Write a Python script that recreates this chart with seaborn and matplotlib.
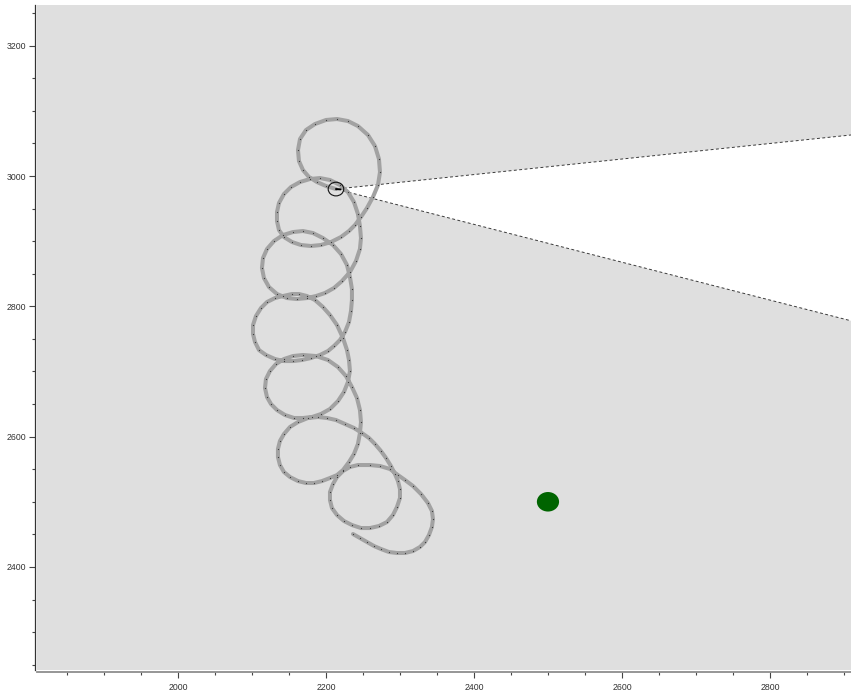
import matplotlib
matplotlib.use("Agg")
import numpy as np
import pandas as pd
import matplotlib.pyplot as plt
from matplotlib.patches import Circle, Polygon
import seaborn as sns

# Robot trajectory in world coordinates (start -> current pose)
path_x = [
    2236.5, 2245.9, 2255.4, 2264.9, 2274.3, 2285.1, 2295.9, 2306.8, 2317.6, 2327.0,
    2333.8, 2339.2, 2343.2, 2344.6, 2343.2, 2337.8, 2328.4, 2317.6, 2306.8, 2297.3,
    2286.5, 2273.0, 2259.5,
    2243.2, 2232.4, 2223.0, 2214.9, 2209.5, 2205.4, 2205.4, 2208.1, 2214.9, 2224.3,
    2235.1, 2247.3, 2259.5, 2271.6, 2282.4, 2290.5, 2295.9, 2300.0, 2300.0, 2297.3,
    2293.2,
    2287.8, 2281.1, 2274.3, 2266.2, 2258.1, 2248.6, 2237.8, 2225.7, 2213.5, 2201.4,
    2189.2,
    2175.7, 2162.2, 2151.4, 2143.2, 2137.8, 2135.1, 2135.1, 2137.8, 2143.2, 2151.4,
    2162.2, 2173.0, 2183.8, 2194.6, 2205.4, 2214.9, 2223.0,
    2231.1, 2237.8, 2243.2, 2245.9, 2247.3, 2245.9, 2241.9, 2235.1, 2227.0, 2216.2,
    2202.7, 2186.5, 2168.9,
    2155.4, 2143.2, 2132.4, 2124.3, 2118.9, 2117.6, 2120.3, 2125.7, 2133.8, 2144.6,
    2156.8, 2168.9, 2181.1,
    2193.2, 2205.4, 2216.2, 2224.3, 2229.7, 2232.4, 2231.1, 2228.4, 2223.0, 2214.9,
    2205.4, 2195.9, 2185.1, 2174.3, 2163.5, 2154.1,
    2141.9, 2131.1, 2120.3, 2112.2, 2105.4, 2101.4, 2101.4, 2104.1, 2109.5, 2118.9,
    2131.1, 2143.2, 2155.4, 2167.6, 2179.7, 2191.9, 2202.7, 2210.8,
    2218.9, 2225.7, 2231.1, 2233.8, 2235.1, 2235.1, 2232.4, 2228.4, 2220.3, 2209.5,
    2195.9, 2182.4, 2168.9,
    2155.4, 2141.9, 2129.7, 2120.3, 2114.9, 2113.5, 2116.2, 2123.0, 2133.8, 2147.3,
    2160.8, 2174.3,
    2186.5, 2198.6, 2210.8, 2221.6, 2232.4, 2240.5, 2245.9, 2247.3, 2245.9, 2243.2,
    2237.8, 2229.7, 2218.9, 2205.4, 2191.9, 2178.4,
    2164.9, 2152.7, 2143.2, 2136.5, 2133.8, 2133.8, 2136.5, 2143.2, 2154.1, 2166.2,
    2179.7, 2193.2, 2206.8, 2220.3, 2231.1, 2239.2,
    2247.3, 2255.4, 2263.5, 2270.3, 2273.0, 2271.6, 2266.2, 2256.8, 2243.2, 2229.7,
    2214.9,
    2200.0, 2185.1, 2173.0, 2164.9, 2162.2, 2163.5, 2168.9, 2177.0, 2187.8, 2200.0,
    2213.5,
]
path_y = [
    2450.5, 2444.4, 2438.2, 2432.1, 2427.5, 2422.9, 2421.4, 2421.4, 2424.4, 2430.6,
    2438.2, 2449.0, 2461.3, 2473.5, 2485.8, 2498.1, 2511.9, 2524.2, 2533.4, 2541.0,
    2550.3, 2554.9, 2556.4,
    2556.4, 2553.4, 2547.2, 2538.0, 2527.3, 2515.0, 2502.7, 2490.4, 2479.7, 2470.5,
    2464.3, 2459.7, 2459.7, 2462.8, 2468.9, 2479.7, 2491.9, 2505.8, 2519.6, 2531.8,
    2542.6,
    2554.9, 2567.2, 2577.9, 2588.7, 2597.9, 2605.5, 2613.3, 2619.4, 2625.5, 2628.6,
    2630.1,
    2628.6, 2622.4, 2614.8, 2604.0, 2593.3, 2581.0, 2568.7, 2556.4, 2545.7, 2538.0,
    2531.8, 2528.8, 2528.8, 2531.8, 2536.5, 2541.0, 2548.7,
    2561.0, 2573.3, 2588.7, 2605.5, 2622.4, 2640.8, 2659.3, 2676.1, 2693.0, 2706.8,
    2717.6, 2723.7, 2725.3,
    2723.7, 2719.1, 2711.4, 2700.7, 2688.4, 2674.6, 2660.8, 2650.0, 2640.8, 2633.2,
    2628.6, 2628.6, 2630.1,
    2634.7, 2642.4, 2654.6, 2668.5, 2683.8, 2700.7, 2717.6, 2732.9, 2751.3, 2771.3,
    2786.7, 2798.9, 2809.7, 2815.8, 2818.9, 2818.9,
    2815.8, 2812.7, 2806.6, 2797.4, 2785.1, 2771.3, 2757.5, 2745.2, 2732.9, 2725.3,
    2719.1, 2716.0, 2716.0, 2717.6, 2720.6, 2725.3, 2731.4, 2739.1,
    2748.3, 2760.6, 2775.9, 2792.8, 2809.7, 2826.6, 2845.0, 2863.4, 2880.3, 2894.1,
    2904.8, 2912.5, 2915.6,
    2914.0, 2909.4, 2900.2, 2888.0, 2874.1, 2858.8, 2843.4, 2829.6, 2818.9, 2812.7,
    2811.2, 2812.7,
    2815.8, 2820.4, 2828.1, 2838.8, 2852.6, 2869.5, 2888.0, 2904.8, 2923.3, 2941.7,
    2960.1, 2975.4, 2986.2, 2993.9, 2996.9, 2995.4,
    2990.8, 2983.1, 2972.4, 2958.6, 2944.7, 2930.9, 2917.1, 2906.4, 2898.7, 2894.1,
    2892.6, 2894.1, 2898.7, 2906.4, 2915.6, 2924.8,
    2937.1, 2950.9, 2967.8, 2986.2, 3006.1, 3026.1, 3046.0, 3062.9, 3076.7, 3084.4,
    3087.5,
    3086.0, 3079.8, 3070.6, 3056.8, 3039.9, 3023.0, 3009.2, 2998.5, 2990.8, 2984.7,
    2980.0,
]

# Goal and robot/sensor parameters
target_x, target_y, target_r = 2500.0, 2500.0, 15.0
robot_r = 10.5
heading_deg = -4.7
fov_deg = 23.0
view_range = 2500.0

x_limits = (1809.5, 2909.5)
y_limits = (2241.8, 3262.5)
x_major = [2000, 2200, 2400, 2600, 2800]
y_major = [2400, 2600, 2800, 3000, 3200]
minor_step = 50

sns.set_theme(style="ticks")
plt.rcParams['font.family'] = ['Liberation Sans', 'DejaVu Sans']

bg = '#dfdfdf'
fig = plt.figure(figsize=(8.51, 6.90), dpi=100)
ax = fig.add_axes([37 / 851, 20 / 690, 814 / 851, 665 / 690])
ax.set_facecolor(bg)

traj = pd.DataFrame({"x": path_x, "y": path_y})
rx, ry = path_x[-1], path_y[-1]

# field of view wedge
h = np.deg2rad(heading_deg)
half = np.deg2rad(fov_deg / 2)
angles = [h + half, h - half]
far = [(rx + view_range * np.cos(a), ry + view_range * np.sin(a)) for a in angles]
ax.add_patch(Polygon([(rx, ry), far[0], far[1]], closed=True,
                     facecolor='white', edgecolor='none', zorder=1))
for a, (fx, fy) in zip(angles, far):
    sx, sy = rx + robot_r * np.cos(a), ry + robot_r * np.sin(a)
    ax.plot([sx, fx], [sy, fy], color='#3a3a3a', lw=0.7,
            linestyle=(0, (3, 2.5)), zorder=2)

# robot body hides the wedge apex
ax.add_patch(Circle((rx, ry), robot_r, facecolor=bg, edgecolor='none', zorder=1.5))

# trajectory
sns.lineplot(data=traj, x="x", y="y", sort=False, estimator=None, ax=ax,
             color='#a2a2a2', lw=2.9, zorder=3, solid_capstyle='round')
ax.scatter(path_x, path_y, s=0.8, color='#3c3c3c', linewidths=0, zorder=3.5)

# robot outline and heading mark
ax.add_patch(Circle((rx, ry), robot_r, facecolor='none', edgecolor='#111111',
                    lw=0.8, zorder=5))
ax.plot([rx, rx + 0.6 * robot_r * np.cos(h)], [ry, ry + 0.6 * robot_r * np.sin(h)],
        color='black', lw=1.4, zorder=5)

# goal
ax.add_patch(Circle((target_x, target_y), target_r, facecolor='#006400',
                    edgecolor='none', zorder=4))

ax.set_xlim(*x_limits)
ax.set_ylim(*y_limits)
ax.set_xticks(x_major)
ax.set_yticks(y_major)
ax.set_xticks(np.arange(1850, 2910, minor_step), minor=True)
ax.set_yticks(np.arange(2250, 3262, minor_step), minor=True)
ax.set_xlabel("")
ax.set_ylabel("")
ax.tick_params(which='major', length=4.5, width=0.8, color='#444444',
               labelsize=6.3, labelcolor='#333333', pad=3)
ax.tick_params(which='minor', length=2.4, width=0.8, color='#444444')
ax.tick_params(axis='y', pad=1.5)

sns.despine(ax=ax, top=True, right=True)
ax.spines['left'].set_position(('outward', 1.5))
ax.spines['bottom'].set_position(('outward', 1.5))
ax.spines['left'].set_color('#333333')
ax.spines['left'].set_linewidth(0.9)
ax.spines['bottom'].set_color('#8e8e8e')
ax.spines['bottom'].set_linewidth(1.3)

fig.savefig("out.png", dpi=100, facecolor='white')
